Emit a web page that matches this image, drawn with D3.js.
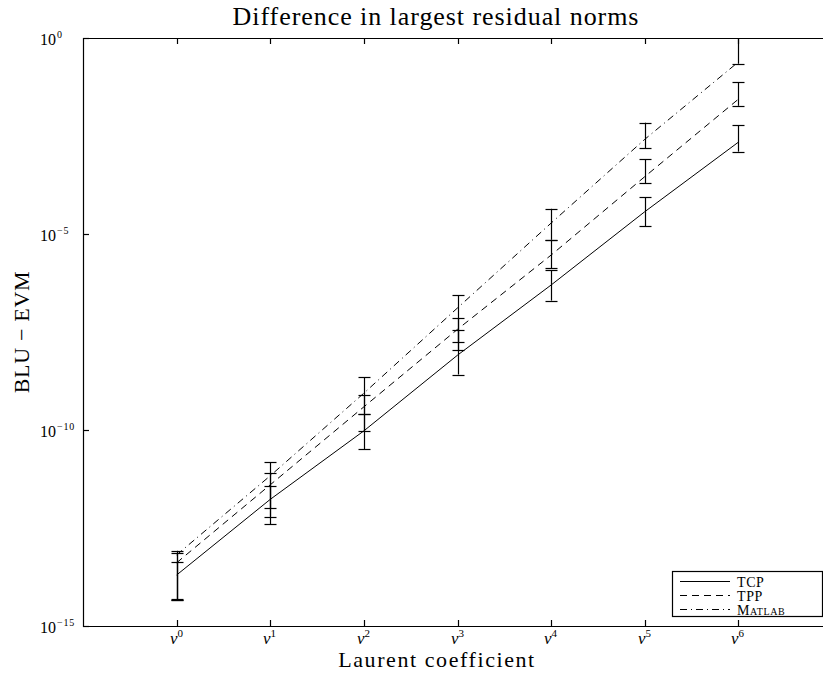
<!DOCTYPE html>
<html>
<head>
<meta charset="utf-8">
<script src="https://cdn.jsdelivr.net/npm/d3@7"></script>
<style>
  body { margin: 0; background: #fff; }
  svg { display: block; font-family: "Liberation Serif", "DejaVu Serif", serif; }
</style>
</head>
<body>
<svg id="chart" width="823" height="674"></svg>
<script>
// data
var steps = [0, 1, 2, 3, 4, 5, 6];
var stepLabels = ["0", "1", "2", "3", "4", "5", "6"];
var yTicks = [1e-15, 1e-10, 1e-5, 1];
var yTickExp = ["\u221215", "\u221210", "\u22125", "0"];

var tcpMid  = [2.0e-14, 1.7e-12, 9.5e-11, 8.1e-9, 5.0e-7, 3.7e-5, 2.2e-3];
var tcpLow  = [4.5e-15, 3.9e-13, 3.2e-11, 2.6e-9, 2.0e-7, 1.6e-5, 1.26e-3];
var tcpHigh = [4.4e-14, 3.8e-12, 2.6e-10, 3.5e-8, 1.2e-6, 8.7e-5, 6.0e-3];

var tppMid  = [4.1e-14, 4.0e-12, 3.9e-10, 3.7e-8, 2.9e-6, 2.9e-4, 2.75e-2];
var tppLow  = [4.9e-15, 6.2e-13, 9.3e-11, 1.1e-8, 1.35e-6, 2.0e-4, 1.86e-2];
var tppHigh = [7.1e-14, 7.8e-12, 7.6e-10, 7.1e-8, 7.1e-6, 8.1e-4, 7.4e-2];

var matMid  = [6.5e-14, 6.8e-12, 8.7e-10, 1.3e-7, 1.9e-5, 2.6e-3, 0.245];
var matLow  = [4.7e-15, 1.0e-12, 2.6e-10, 1.8e-8, 7.1e-6, 1.55e-3, 0.22];
var matHigh = [8.3e-14, 1.5e-11, 2.2e-9, 2.75e-7, 4.4e-5, 6.9e-3, 1.26];

var seriesNames = ["TCP", "TPP", "Matlab"];
var dashes = [null, "7,5", "7,4,1,4"];

var series = [
    { name: seriesNames[0], mid: tcpMid, low: tcpLow, high: tcpHigh, dash: dashes[0] },
    { name: seriesNames[1], mid: tppMid, low: tppLow, high: tppHigh, dash: dashes[1] },
    { name: seriesNames[2], mid: matMid, low: matLow, high: matHigh, dash: dashes[2] }
];

// plot box (right side runs past the page edge, like the original)
var box = { left: 83, right: 832, top: 38, bottom: 626 };

var svg = d3.select("#chart");

var x = d3.scaleLinear().domain([-1, 7]).range([box.left, box.right]);
var y = d3.scaleLog().domain([1e-15, 1]).range([box.bottom, box.top]);

svg.append("clipPath").attr("id", "clip")
  .append("rect")
    .attr("x", box.left).attr("y", box.top)
    .attr("width", box.right - box.left).attr("height", box.bottom - box.top);

var plot = svg.append("g").attr("clip-path", "url(#clip)");

// lines
var line = d3.line()
    .x(function(d, i) { return x(steps[i]); })
    .y(function(d) { return y(d); });

series.forEach(function(s) {
    plot.append("path")
        .datum(s.mid)
        .attr("d", line)
        .attr("fill", "none")
        .attr("stroke", "#000")
        .attr("stroke-width", 1)
        .attr("stroke-dasharray", s.dash);
});

// error bars
var capW = 6;
series.forEach(function(s) {
    var g = plot.append("g");
    steps.forEach(function(st, i) {
        var cx = Math.round(x(st)) + 0.5;
        g.append("line")
            .attr("x1", cx).attr("x2", cx)
            .attr("y1", y(s.low[i])).attr("y2", y(s.high[i]))
            .attr("stroke", "#000").attr("stroke-width", 1.2);
        [s.low[i], s.high[i]].forEach(function(v) {
            var cy = Math.round(y(v)) + 0.5;
            g.append("line")
                .attr("x1", cx - capW).attr("x2", cx + capW)
                .attr("y1", cy).attr("y2", cy)
                .attr("stroke", "#000").attr("stroke-width", 1.2);
        });
    });
});

// frame
var frame = svg.append("g").attr("stroke", "#000").attr("stroke-width", 1.2);
frame.append("line").attr("x1", box.left + 0.5).attr("x2", box.left + 0.5).attr("y1", box.top).attr("y2", box.bottom + 1);
frame.append("line").attr("x1", box.left).attr("x2", 823).attr("y1", box.top + 0.5).attr("y2", box.top + 0.5);
frame.append("line").attr("x1", box.left).attr("x2", 823).attr("y1", box.bottom + 0.5).attr("y2", box.bottom + 0.5);

// x ticks (inward, top and bottom)
steps.forEach(function(st, i) {
    var cx = Math.round(x(st)) + 0.5;
    frame.append("line").attr("x1", cx).attr("x2", cx).attr("y1", box.bottom).attr("y2", box.bottom - 6);
    frame.append("line").attr("x1", cx).attr("x2", cx).attr("y1", box.top).attr("y2", box.top + 6);
    var t = svg.append("text")
        .attr("x", cx - 1)
        .attr("y", box.bottom + 18)
        .attr("text-anchor", "middle")
        .style("font-size", "17px");
    t.append("tspan").style("font-style", "italic").text("v");
    t.append("tspan").attr("dy", -7).style("font-size", "11px").text(stepLabels[i]);
});

// y ticks
yTicks.forEach(function(v, i) {
    var cy = Math.round(y(v)) + 0.5;
    frame.append("line").attr("x1", box.left).attr("x2", box.left + 6).attr("y1", cy).attr("y2", cy);
    var t = svg.append("text")
        .attr("x", 40)
        .attr("y", cy + 6)
        .style("font-size", "16px");
    t.append("tspan").text("10");
    t.append("tspan").attr("dy", -7).attr("dx", 1).style("font-size", "10px")
        .style("letter-spacing", "0.8px").text(yTickExp[i]);
});

// spread a label out to the width it has in the original (the TeX font is wider)
function fitText(sel, target) {
    var w = sel.node().getComputedTextLength();
    var n = sel.text().length - 1;
    sel.style("letter-spacing", ((target - w) / n).toFixed(2) + "px");
}

var title = svg.append("text")
    .attr("x", 436).attr("y", 25)
    .attr("text-anchor", "middle")
    .style("font-size", "26px")
    .text("Difference in largest residual norms");
fitText(title, 406);

var xlab = svg.append("text")
    .attr("x", 437).attr("y", 667)
    .attr("text-anchor", "middle")
    .style("font-size", "22px")
    .text("Laurent coefficient");
fitText(xlab, 196);

var ylab = svg.append("text")
    .attr("transform", "translate(29," + ((box.top + box.bottom) / 2) + ") rotate(-90)")
    .attr("text-anchor", "middle")
    .style("font-size", "22px")
    .text("BLU \u2212 EVM");
fitText(ylab, 122);

// legend
var lg = svg.append("g").attr("transform", "translate(672,571)");
lg.append("rect")
    .attr("x", 0.5).attr("y", 0.5)
    .attr("width", 150).attr("height", 45)
    .attr("fill", "#fff").attr("stroke", "#000").attr("stroke-width", 1.2);
series.forEach(function(s, i) {
    var ly = 10.5 + i * 14;
    lg.append("line")
        .attr("x1", 8).attr("x2", 58)
        .attr("y1", ly).attr("y2", ly)
        .attr("stroke", "#000").attr("stroke-width", 1)
        .attr("stroke-dasharray", s.dash);
    lg.append("text")
        .attr("x", 65).attr("y", ly + 5)
        .style("font-size", "14px")
        .style("letter-spacing", "0.6px")
        .style("font-variant", i === 2 ? "small-caps" : null)
        .text(s.name);
});
</script>
</body>
</html>
